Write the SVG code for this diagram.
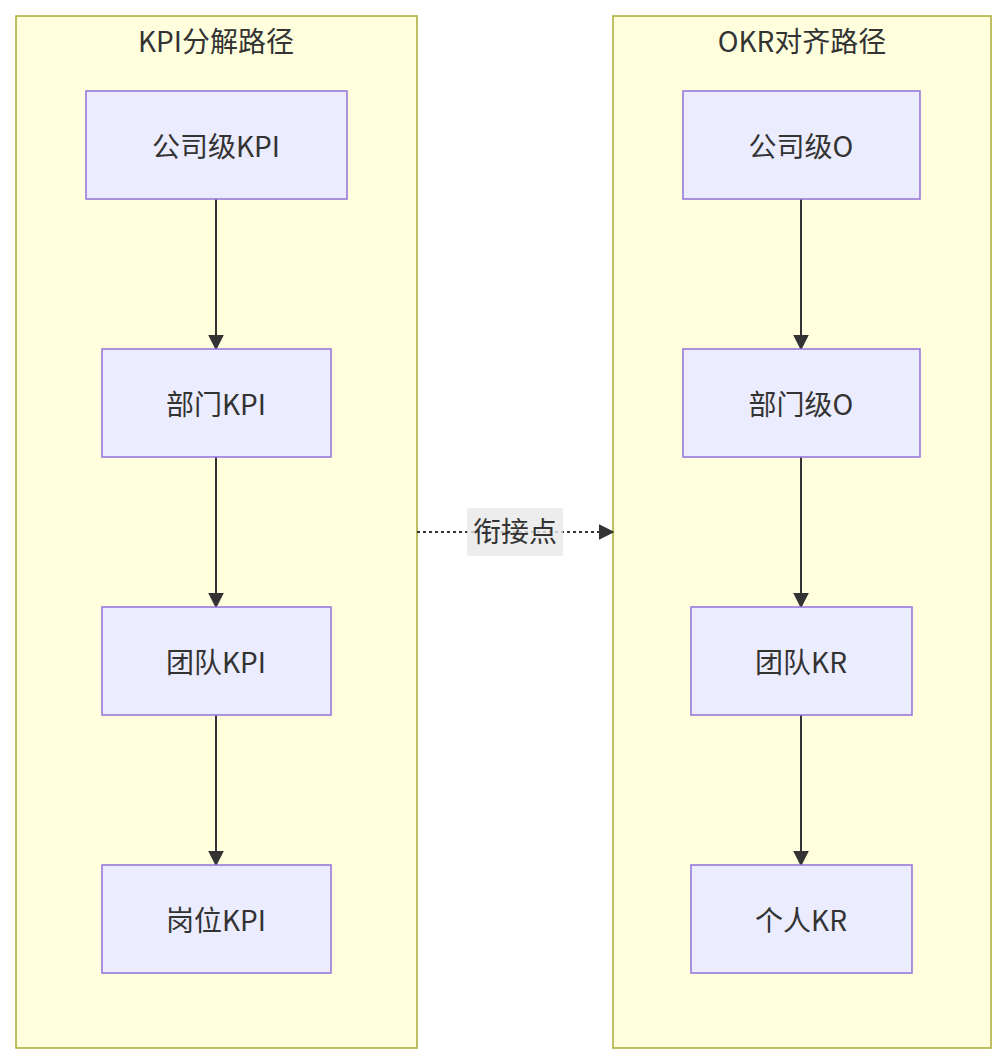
<svg xmlns="http://www.w3.org/2000/svg" width="1006" height="1064" viewBox="0 0 1006 1064">
<style>
.cl{fill:#ffffde;stroke:#aaaa33;stroke-width:1.5}
.nd{fill:#ececff;stroke:#9370db;stroke-width:1.5}
text{font-family:"Noto Sans CJK SC","Noto Sans",sans-serif;font-size:28px;fill:#333;text-anchor:middle;dominant-baseline:central}
.e{stroke:#333;stroke-width:2;fill:none}
</style>
<defs><marker id="a" viewBox="0 0 10 10" refX="9" refY="5" markerWidth="8" markerHeight="8" markerUnits="userSpaceOnUse" orient="auto"><path d="M0,0L10,5L0,10z" fill="#333"/></marker>
<marker id="b" viewBox="0 0 10 10" refX="9" refY="5" markerWidth="16" markerHeight="16" markerUnits="userSpaceOnUse" orient="auto"><path d="M0,0L10,5L0,10z" fill="#333"/></marker></defs>
<g id="kpi"><rect class="cl" x="16" y="16" width="401" height="1032"/><text x="216" y="40">KPI分解路径</text></g>
<g id="okr"><rect class="cl" x="613" y="16" width="378" height="1032"/><text x="802" y="40">OKR对齐路径</text></g>
<g id="edges">
<path class="e" d="M216,199V349" marker-end="url(#b)"/>
<path class="e" d="M216,457V607" marker-end="url(#b)"/>
<path class="e" d="M216,715V865" marker-end="url(#b)"/>
<path class="e" d="M801,199V349" marker-end="url(#b)"/>
<path class="e" d="M801,457V607" marker-end="url(#b)"/>
<path class="e" d="M801,715V865" marker-end="url(#b)"/>
<path class="e" d="M417,532H613" stroke-dasharray="3,3" marker-end="url(#b)"/>
<rect x="467" y="508" width="96" height="48" fill="#e8e8e8" opacity="0.8"/><text x="515" y="530">衔接点</text>
</g>
<g id="n1"><rect class="nd" x="86" y="91" width="261" height="108"/><text x="216" y="145">公司级KPI</text></g>
<g id="n2"><rect class="nd" x="102" y="349" width="229" height="108"/><text x="216" y="403">部门KPI</text></g>
<g id="n3"><rect class="nd" x="102" y="607" width="229" height="108"/><text x="216" y="661">团队KPI</text></g>
<g id="n4"><rect class="nd" x="102" y="865" width="229" height="108"/><text x="216" y="919">岗位KPI</text></g>
<g id="n5"><rect class="nd" x="683" y="91" width="237" height="108"/><text x="801" y="145">公司级O</text></g>
<g id="n6"><rect class="nd" x="683" y="349" width="237" height="108"/><text x="801" y="403">部门级O</text></g>
<g id="n7"><rect class="nd" x="691" y="607" width="221" height="108"/><text x="801" y="661">团队KR</text></g>
<g id="n8"><rect class="nd" x="691" y="865" width="221" height="108"/><text x="801" y="919">个人KR</text></g>
</svg>
